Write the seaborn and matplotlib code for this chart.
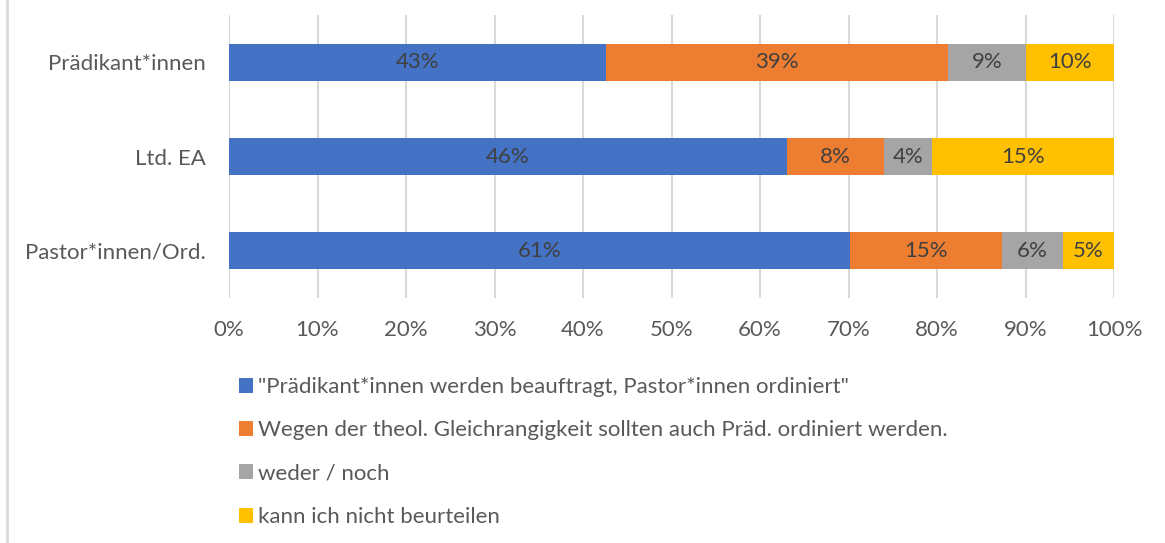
import matplotlib
matplotlib.use("Agg")
import matplotlib.pyplot as plt
from matplotlib.patches import Patch
from matplotlib.lines import Line2D
import seaborn as sns
import pandas as pd
import numpy as np

categories = ["Prädikant*innen", "Ltd. EA", "Pastor*innen/Ord."]
series_names = [
    "\"Prädikant*innen werden beauftragt, Pastor*innen ordiniert\"",
    "Wegen der theol. Gleichrangigkeit sollten auch Präd. ordiniert werden.",
    "weder / noch",
    "kann ich nicht beurteilen",
]
beauftragt = [43, 46, 61]
ordinieren = [39, 8, 15]
weder_noch = [9, 4, 6]
nicht_beurteilen = [10, 15, 5]
colors = ["#4472C4", "#ED7D31", "#A5A5A5", "#FFC000"]
x_ticks = [0, 10, 20, 30, 40, 50, 60, 70, 80, 90, 100]

sns.set_theme(style="white")
plt.rcParams["font.family"] = ["Lato", "DejaVu Sans"]
text_color = "#595959"
fs = 16

values = np.array([beauftragt, ordinieren, weder_noch, nicht_beurteilen], dtype=float)
shares = values / values.sum(axis=0) * 100
cum = np.cumsum(shares, axis=0)

fig = plt.figure(figsize=(11.65, 5.43), dpi=100)
ax = fig.add_axes([229 / 1165, 1 - 298 / 543, (1114 - 229) / 1165, (298 - 15) / 543])

# draw cumulative totals from widest to narrowest so each segment shows on top
for i in range(len(series_names) - 1, -1, -1):
    df = pd.DataFrame({"cat": categories, "end": cum[i]})
    sns.barplot(data=df, x="end", y="cat", color=colors[i], width=0.39,
                saturation=1, ax=ax, zorder=2, edgecolor="none")

# segment labels
for i in range(len(series_names)):
    starts = cum[i] - shares[i]
    for j in range(len(categories)):
        ax.text(starts[j] + shares[i][j] / 2, j, f"{int(values[i][j])}%",
                ha="center", va="center", fontsize=fs, color="#404040", zorder=3)

ax.set_xlim(0, 100)
ax.set_ylim(2.5, -0.5)
ax.set_xticks(x_ticks)
ax.set_xticklabels([f"{t}%" for t in x_ticks], fontsize=fs, color=text_color)
ax.tick_params(axis="x", length=0, pad=16)
ax.tick_params(axis="y", length=0, pad=17, labelsize=fs, labelcolor=text_color)
ax.set_xlabel("")
ax.set_ylabel("")
ax.xaxis.grid(True, color="#D9D9D9", linewidth=1.5, zorder=0)
ax.set_axisbelow(True)
for s in ax.spines.values():
    s.set_visible(False)

handles = [Patch(facecolor=c, edgecolor="none") for c in colors]
fig.legend(handles, series_names, loc="upper left",
           bbox_to_anchor=(230 / 1165, 1 - 368 / 543), frameon=False,
           fontsize=fs, labelcolor=text_color, handlelength=0.65, handleheight=0.65,
           handletextpad=0.2, labelspacing=1.05, borderaxespad=0)

fig.add_artist(Line2D([7 / 1165, 7 / 1165], [0, 1], transform=fig.transFigure,
                      color="#D9D9D9", linewidth=2))

fig.savefig("out.png", dpi=100, facecolor="white")
